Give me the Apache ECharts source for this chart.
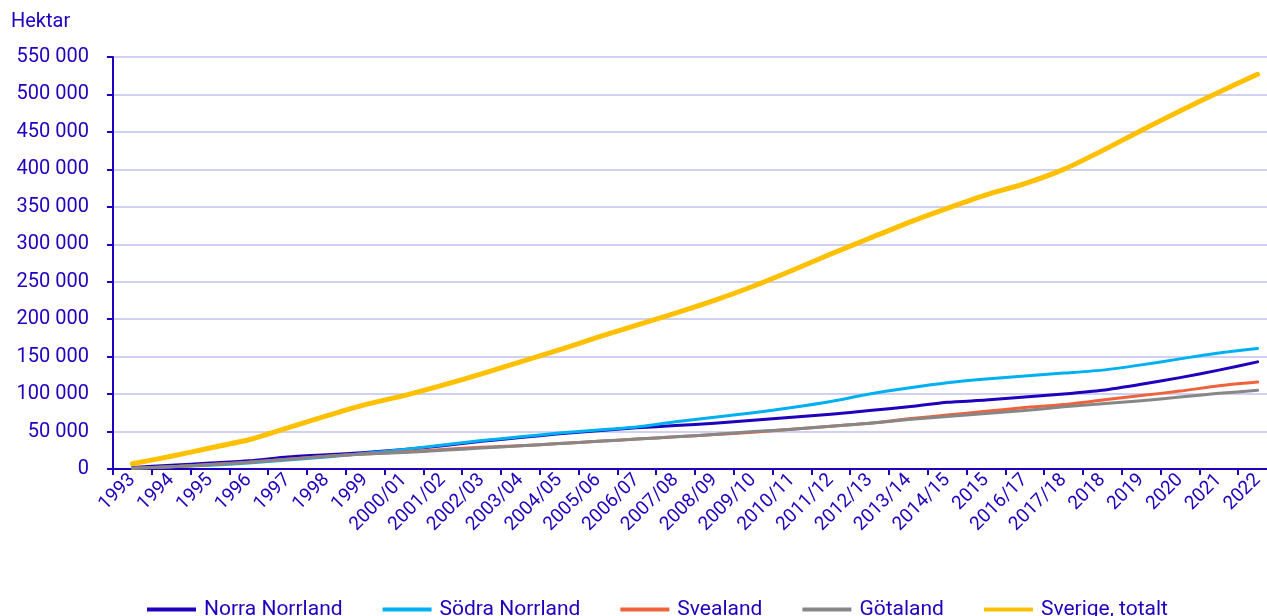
<!DOCTYPE html>
<html><head><meta charset="utf-8">
<script src="https://cdn.jsdelivr.net/npm/echarts@6/dist/echarts.min.js"></script>
<style>html,body{margin:0;padding:0;background:#fff}#c{width:1267px;height:616px}</style>
</head><body><div id="c"></div>
<script>
const categories = ['1993','1994','1995','1996','1997','1998','1999','2000/01','2001/02','2002/03','2003/04','2004/05','2005/06','2006/07','2007/08','2008/09','2009/10','2010/11','2011/12','2012/13','2013/14','2014/15','2015','2016/17','2017/18','2018','2019','2020','2021','2022'];
const norraNorrland = [2000,5000,8000,11000,16000,19000,22000,26000,31000,37000,42000,47000,51000,55000,58000,61000,65000,69000,73000,78000,83000,89000,92000,96000,100000,105000,113000,122000,132000,143000];
const sodraNorrland = [1000,3000,5000,8000,12000,16000,21000,26000,32000,38000,43000,48000,52000,56000,63000,69000,75000,82000,90000,100000,108000,115000,120000,124000,128000,132000,139000,147000,155000,161000];
const svealand = [1000,3000,6000,9000,13000,17000,20000,23000,26000,29000,31000,34000,37000,40000,43000,46000,49000,53000,57000,61000,67000,72000,77000,82000,86000,92000,98000,104000,111000,116000];
const gotaland = [1000,3000,6000,9000,13000,17000,20000,22000,25000,28000,31000,34000,37000,40000,43000,46000,50000,53000,57000,61000,66000,70000,74000,78000,83000,87000,91000,96000,101000,105000];
const sverige = [7000,17000,28000,39000,55000,71000,86000,98000,112000,127000,143000,159000,176000,192000,208000,225000,244000,265000,287000,308000,329000,348000,366000,381000,400000,425000,452000,478000,503000,527000];
const seriesNames = ['Norra Norrland','Södra Norrland','Svealand','Götaland','Sverige, totalt'];
const yTicks = {min:0, max:550000, interval:50000};

const C = '#1e00be';
const FONT = 'Roboto';
const fmt = v => String(v).replace(/\B(?=(\d{3})+(?!\d))/g, ' ');
const chart = echarts.init(document.getElementById('c'));
const mk = (name, data, color, width) => ({name, type:'line', data, symbol:'none', smooth:0.2,
  lineStyle:{color, width, cap:'round', join:'round'}, itemStyle:{color}});
chart.setOption({
  animation:false,
  textStyle:{fontFamily:FONT},
  title:{text:'Hektar', left:6, top:7, textStyle:{color:C, fontSize:20, fontWeight:'normal', fontFamily:FONT}},
  grid:{left:113, width:1164, top:57, bottom:147, outerBoundsMode:'none', containLabel:false},
  legend:{bottom:-9, left:142, itemWidth:49, itemHeight:4, itemGap:40,
    textStyle:{color:C, fontSize:21, fontFamily:FONT, padding:[0,0,0,3]},
    data:seriesNames.map(n=>({name:n, icon:'rect'}))},
  xAxis:{type:'category', data:categories, boundaryGap:true,
    axisLine:{lineStyle:{color:C, width:2}},
    axisTick:{show:true, length:6, lineStyle:{color:C, width:2}},
    axisLabel:{rotate:45, color:C, fontSize:19, fontFamily:FONT, margin:8, interval:0}},
  yAxis:{type:'value', min:yTicks.min, max:yTicks.max, interval:yTicks.interval,
    axisLine:{show:true, lineStyle:{color:C, width:2}},
    axisTick:{show:true, length:6, lineStyle:{color:C, width:2}},
    axisLabel:{color:C, fontSize:20, fontFamily:FONT, margin:24, formatter:fmt},
    splitLine:{lineStyle:{color:'#d0d0f0', width:2}}},
  series:[
    mk(seriesNames[0], norraNorrland, '#1e00be', 3),
    mk(seriesNames[1], sodraNorrland, '#00b0f0', 3),
    mk(seriesNames[2], svealand, '#f0623c', 3),
    mk(seriesNames[3], gotaland, '#878787', 3),
    mk(seriesNames[4], sverige, '#ffc000', 5)
  ]
});
</script></body></html>
